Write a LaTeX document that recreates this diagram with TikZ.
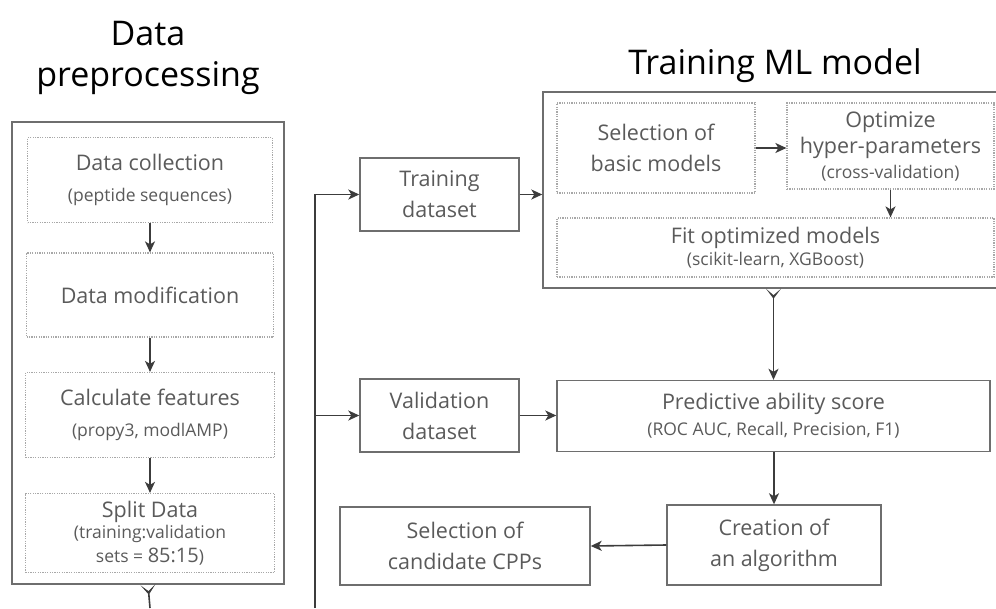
\documentclass[tikz,border=0pt]{standalone}
\usepackage{fontspec}
\setmainfont{Open Sans}
\usepackage{tikz}
\usetikzlibrary{arrows.meta}
\definecolor{boxgray}{HTML}{6E6E6E}
\definecolor{txtgray}{HTML}{5A5A5A}
\definecolor{dotgray}{HTML}{A8A8A8}
\definecolor{arrgray}{HTML}{3C3C3C}
\newcommand{\subtxt}[1]{{\fontsize{17.5}{20}\selectfont #1}}

\begin{document}
\begin{tikzpicture}[x=1pt,y=-1pt,
    title/.style={align=center,font=\fontsize{34}{41}\selectfont,text=black},
    solidbox/.style={draw=boxgray,line width=1.4pt,text=txtgray,align=center,inner sep=0pt,font=\fontsize{21.5}{31}\selectfont},
    dotbox/.style={solidbox,draw=dotgray,line width=1.2pt,dash pattern=on 1.2pt off 1.2pt},
    flow/.style={draw=arrgray,line width=1.6pt,-{Stealth[length=11pt,width=10pt,inset=3pt]}},
    tailflow/.style={draw=arrgray,line width=1.6pt,{Stealth[reversed,length=10pt,width=15pt,inset=6.5pt]}-},
    bothflow/.style={draw=arrgray,line width=1.6pt,
        {Stealth[reversed,length=10pt,width=15pt,inset=6.5pt]}-{Stealth[length=11pt,width=10pt,inset=3pt]}}]
    \useasboundingbox (0,0) rectangle (996,608);
    \clip (0,0) rectangle (996,608);

    % Titles:
    \node [title] (titleprep) at (148,58) {Data\\preprocessing};
    \node [title] (titleml) at (775,66) {Training ML model};

    % Data preprocessing column:
    \node [solidbox,minimum width=272,minimum height=462] (prep) at (148,353) {};
    \node [dotbox,minimum width=245,minimum height=85] (collect) at (150,180) {Data collection\\\subtxt{(peptide sequences)}};
    \node [dotbox,minimum width=247,minimum height=84] (modif) at (150,295) {Data modification};
    \node [dotbox,minimum width=249,minimum height=85] (calc) at (150,415) {Calculate features\\\subtxt{(propy3, modlAMP)}};
    \node [dotbox,minimum width=249,minimum height=79] (split) at (150,533)
        {Split Data\\[-10pt]\subtxt{(training:validation}\\[-7pt]\subtxt{sets = {\fontsize{20}{20}\selectfont 85:15})}};
    \draw [flow] (collect) -- (modif);
    \draw [flow] (modif) -- (calc);
    \draw [flow] (calc) -- (split);

    % Output of preprocessing (goes on below the frame):
    \coordinate (tailend) at (150,608);
    \draw [tailflow] (prep.south) -- (tailend);

    % Datasets:
    \node [solidbox,minimum width=159,minimum height=73] (train) at (439.5,194.5) {Training\\dataset};
    \node [solidbox,minimum width=159,minimum height=73] (valid) at (439.5,415.5) {Validation\\dataset};
    \coordinate (busend) at (315,608);
    \draw [flow] (busend) |- (train.west);
    \draw [flow] (busend |- valid.west) -- (valid.west);

    % Training ML model:
    \node [solidbox,minimum width=457,minimum height=196] (mlbox) at (771.5,190) {};
    \node [dotbox,minimum width=198,minimum height=90] (select) at (656,148) {Selection of\\basic models};
    \node [dotbox,minimum width=207,minimum height=86] (hyper) at (890.5,146)
        {Optimize\\[-5pt]hyper-parameters\\[-6pt]\subtxt{(cross-validation)}};
    \node [dotbox,minimum width=437,minimum height=59] (fit) at (775.5,247.5)
        {Fit optimized models\\[-9pt]\subtxt{(scikit-learn, XGBoost)}};
    \draw [flow] (select.east) -- (select.east -| hyper.west);
    \draw [flow] (hyper.south) -- (hyper.south |- fit.north);
    \draw [flow] (train.east) -- (train.east -| mlbox.west);

    % Evaluation:
    \node [solidbox,minimum width=433,minimum height=71] (pred) at (773.5,416)
        {Predictive ability score\\[-5pt]\subtxt{(ROC AUC, Recall, Precision, F1)}};
    \node [solidbox,minimum width=214,minimum height=80] (creat) at (774,545) {Creation of\\an algorithm};
    \node [solidbox,minimum width=250,minimum height=78] (cand) at (465,546) {Selection of\\candidate CPPs};
    \draw [bothflow] (pred.north |- mlbox.south) -- (pred.north);
    \draw [flow] (valid.east) -- (valid.east -| pred.west);
    \draw [flow] (creat.north |- pred.south) -- (creat.north);
    \draw [flow] (creat.west) -- (cand.east);
\end{tikzpicture}
\end{document}
